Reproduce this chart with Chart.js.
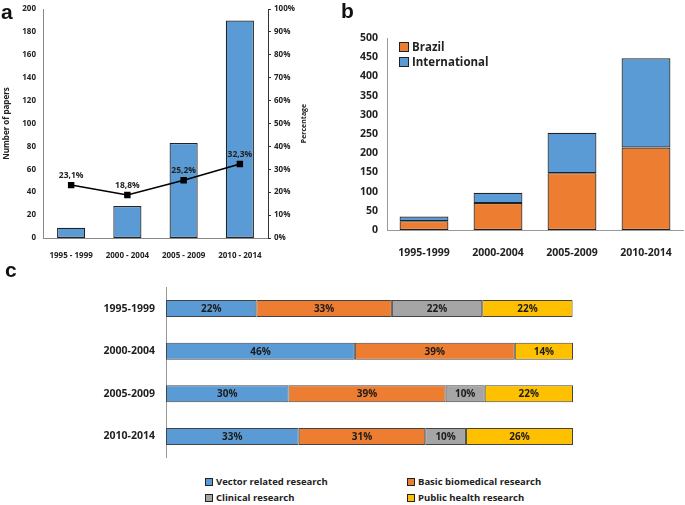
<!DOCTYPE html>
<html>
<head>
<meta charset="utf-8">
<script src="https://cdn.jsdelivr.net/npm/chart.js@4.4.1/dist/chart.umd.min.js"></script>
<style>
  html, body { margin: 0; padding: 0; background: #fff; }
  #wrap { position: relative; width: 685px; height: 505px; overflow: hidden; font-family: "Open Sans", Lato, sans-serif; }
  canvas { position: absolute; }
  .letter { position: absolute; font-family: "Liberation Sans", Arial, sans-serif; font-weight: bold; font-size: 21px; color: #111; line-height: 1; }
  .leg { position: absolute; font-weight: 700; color: #222; white-space: nowrap; display: flex; align-items: center; }
  .sw { display: inline-block; border: 1px solid #222; box-sizing: border-box; margin-right: 3px; }
</style>
</head>
<body>
<div id="wrap">
  <canvas id="ca" width="320" height="262" style="left:0;top:0"></canvas>
  <canvas id="cb" width="365" height="262" style="left:320px;top:0"></canvas>
  <canvas id="cc" width="685" height="205" style="left:0;top:270px"></canvas>
  <div class="letter" style="left:1px;top:1px">a</div>
  <div class="letter" style="left:341px;top:0px">b</div>
  <div class="letter" style="left:5px;top:259px">c</div>

  <div class="leg" style="left:399px;top:39px;font-size:11.5px"><span class="sw" style="width:10px;height:10px;background:#ED7D31"></span>Brazil</div>
  <div class="leg" style="left:399px;top:54px;font-size:11.5px"><span class="sw" style="width:10px;height:10px;background:#5B9BD5"></span>International</div>

  <div class="leg" style="left:205px;top:475px;font-size:9.5px"><span class="sw" style="width:8px;height:8px;background:#5B9BD5"></span>Vector related research</div>
  <div class="leg" style="left:407px;top:475px;font-size:9.5px"><span class="sw" style="width:8px;height:8px;background:#ED7D31"></span>Basic biomedical research</div>
  <div class="leg" style="left:205px;top:491px;font-size:9.5px"><span class="sw" style="width:8px;height:8px;background:#A5A5A5"></span>Clinical research</div>
  <div class="leg" style="left:407px;top:491px;font-size:9.5px"><span class="sw" style="width:8px;height:8px;background:#FFC000"></span>Public health research</div>
</div>
<script>
// ---------- Data ----------
const periodsA = ['1995 - 1999', '2000 - 2004', '2005 - 2009', '2010 - 2014'];
const papersA = [9, 28, 83, 190];
const percentA = [23.1, 18.8, 25.2, 32.3];

const periodsB = ['1995-1999', '2000-2004', '2005-2009', '2010-2014'];
const brazilB = [23, 70, 148, 215];
const internationalB = [12, 27, 105, 232];

const periodsC = ['1995-1999', '2000-2004', '2005-2009', '2010-2014'];
const vectorC = [22.2, 46.4, 30.1, 32.6];
const basicC = [33.3, 39.3, 38.6, 31.1];
const clinicalC = [22.2, 0, 9.6, 10.0];
const publicC = [22.2, 14.3, 21.7, 26.3];

const FONT = '"Open Sans", Lato, sans-serif';
const BLUE = '#5B9BD5', ORANGE = '#ED7D31', GRAY = '#A5A5A5', YELLOW = '#FFC000';
Chart.defaults.font.family = FONT;
Chart.defaults.color = '#222';
Chart.defaults.animation = false;

// ---------- Panel a ----------
const lineLabels = {
  id: 'lineLabels',
  afterDatasetsDraw(chart) {
    const ctx = chart.ctx;
    const meta = chart.getDatasetMeta(0);
    ctx.save();
    ctx.font = 'bold 8.5px ' + FONT;
    ctx.fillStyle = '#222';
    ctx.textAlign = 'center';
    ctx.textBaseline = 'bottom';
    meta.data.forEach((pt, i) => {
      const v = chart.data.datasets[0].data[i];
      ctx.fillText(v.toFixed(1).replace('.', ',') + '%', pt.x, pt.y - 5);
    });
    // right axis title, reading upward
    ctx.translate(304, (chart.chartArea.top + chart.chartArea.bottom) / 2);
    ctx.rotate(-Math.PI / 2);
    ctx.font = 'bold 7px ' + FONT;
    ctx.textBaseline = 'middle';
    ctx.fillText('Percentage', 0, 0);
    ctx.restore();
  }
};

new Chart(document.getElementById('ca'), {
  data: {
    labels: periodsA,
    datasets: [
      { type: 'line', data: percentA, yAxisID: 'y1', borderColor: '#000', borderWidth: 1.5,
        pointStyle: 'rect', pointRadius: 3.5, pointBackgroundColor: '#000', pointBorderColor: '#000', order: 0 },
      { type: 'bar', data: papersA, yAxisID: 'y', backgroundColor: BLUE, borderColor: '#222', borderWidth: 1.2,
        borderSkipped: false, barPercentage: 0.5, categoryPercentage: 1, order: 1 }
    ]
  },
  options: {
    responsive: false, devicePixelRatio: 1,
    layout: { padding: { top: 9, left: 0, right: 0, bottom: 0 } },
    plugins: { legend: { display: false }, tooltip: { enabled: false } },
    scales: {
      x: {
        grid: { display: false }, border: { color: '#888' },
        ticks: { font: { size: 8, weight: 'bold' }, padding: 5, maxRotation: 0 },
        afterFit: s => { s.height = 24; }
      },
      y: {
        position: 'left', min: 0, max: 200,
        grid: { display: false, drawTicks: false }, border: { color: '#888' },
        ticks: { stepSize: 20, font: { size: 8, weight: 'bold' }, padding: 7 },
        title: { display: true, text: 'Number of papers', font: { size: 8, weight: 'bold' }, padding: { top: 2, bottom: 2 } },
        afterFit: s => { s.width = 43; s.paddingTop = 0; s.paddingBottom = 0; }
      },
      y1: {
        position: 'right', min: 0, max: 100,
        grid: { drawOnChartArea: false, tickLength: 3, color: '#333' }, border: { color: '#333' },
        ticks: { stepSize: 10, font: { size: 8, weight: 'bold' }, padding: 3, callback: v => v + '%' },
        afterFit: s => { s.width = 52; s.paddingTop = 0; s.paddingBottom = 0; }
      }
    }
  },
  plugins: [lineLabels]
});

// ---------- Panel b ----------
new Chart(document.getElementById('cb'), {
  type: 'bar',
  data: {
    labels: periodsB,
    datasets: [
      { label: 'Brazil', data: brazilB, backgroundColor: ORANGE, borderColor: '#222', borderWidth: 1.2,
        borderSkipped: false, barPercentage: 0.66, categoryPercentage: 1 },
      { label: 'International', data: internationalB, backgroundColor: BLUE, borderColor: '#222', borderWidth: 1.2,
        borderSkipped: false, barPercentage: 0.66, categoryPercentage: 1 }
    ]
  },
  options: {
    responsive: false, devicePixelRatio: 1,
    layout: { padding: { top: 38, right: 2, left: 0, bottom: 0 } },
    plugins: { legend: { display: false }, tooltip: { enabled: false } },
    scales: {
      x: {
        stacked: true, grid: { display: false }, border: { color: '#999' },
        ticks: { font: { size: 10.5, weight: 'bold' }, padding: 9, maxRotation: 0 },
        afterFit: s => { s.height = 32; }
      },
      y: {
        stacked: true, min: 0, max: 500,
        grid: { display: false, drawTicks: false }, border: { color: '#999' },
        ticks: { stepSize: 50, font: { size: 10.5, weight: 'bold' }, padding: 9 },
        afterFit: s => { s.width = 67; }
      }
    }
  }
});

// ---------- Panel c ----------
const barLabels = {
  id: 'barLabels',
  afterDatasetsDraw(chart) {
    const ctx = chart.ctx;
    ctx.save();
    ctx.font = 'bold 10px ' + FONT;
    ctx.fillStyle = '#1b1b1b';
    ctx.textAlign = 'center';
    ctx.textBaseline = 'middle';
    chart.data.datasets.forEach((ds, di) => {
      chart.getDatasetMeta(di).data.forEach((bar, i) => {
        const v = ds.data[i];
        if (!v) return;
        ctx.fillText(Math.round(v) + '%', (bar.x + bar.base) / 2, bar.y + 0.5);
      });
    });
    ctx.restore();
  }
};

const cDs = (label, data, color) => ({ label, data, backgroundColor: color, borderColor: '#444', borderWidth: 1,
  borderSkipped: false, barPercentage: 0.4, categoryPercentage: 1 });

new Chart(document.getElementById('cc'), {
  type: 'bar',
  data: {
    labels: periodsC,
    datasets: [
      cDs('Vector related research', vectorC, BLUE),
      cDs('Basic biomedical research', basicC, ORANGE),
      cDs('Clinical research', clinicalC, GRAY),
      cDs('Public health research', publicC, YELLOW)
    ]
  },
  options: {
    indexAxis: 'y',
    responsive: false, devicePixelRatio: 1,
    layout: { padding: { top: 10, bottom: 10, right: 112, left: 0 } },
    plugins: { legend: { display: false }, tooltip: { enabled: false } },
    scales: {
      x: { stacked: true, min: 0, max: 100, display: false },
      y: {
        stacked: true, grid: { display: false, drawTicks: false }, border: { color: '#999' },
        ticks: { font: { size: 10.5, weight: 'bold' }, padding: 11 },
        afterFit: s => { s.width = 166; }
      }
    }
  },
  plugins: [barLabels]
});
</script>
</body>
</html>
